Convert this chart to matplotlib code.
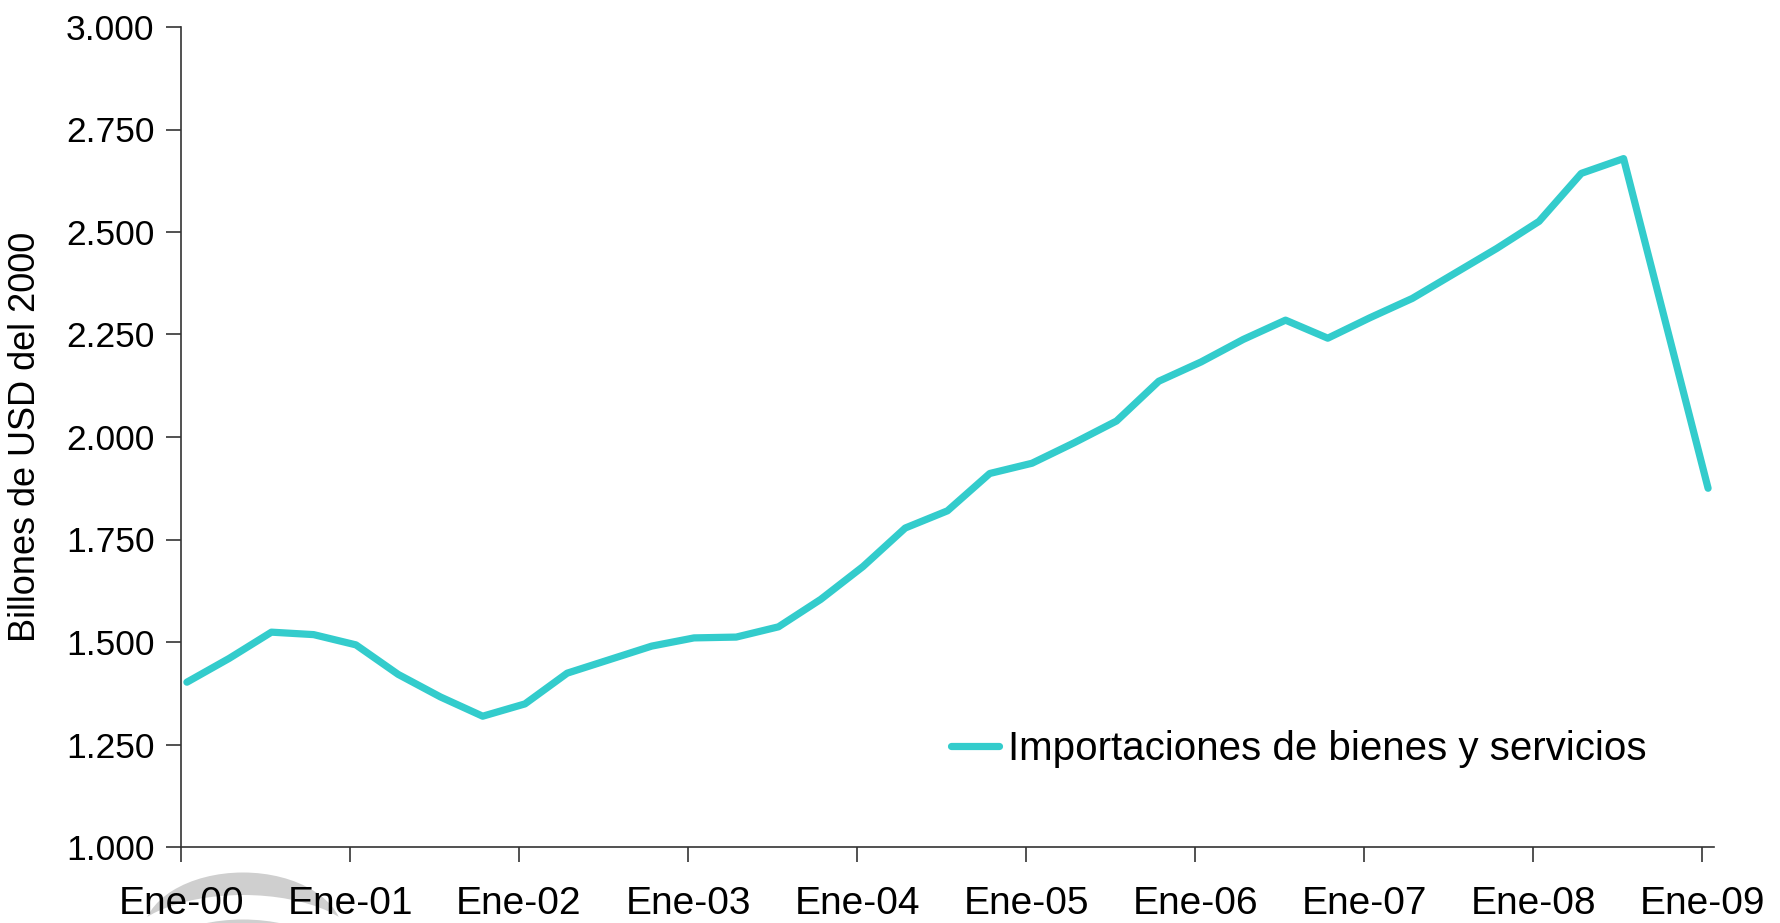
import matplotlib
matplotlib.use("Agg")
import matplotlib.pyplot as plt
from matplotlib.ticker import FuncFormatter, FixedLocator
from matplotlib.patches import Ellipse
import numpy as np

plt.rcParams['font.family'] = ['Liberation Sans', 'DejaVu Sans']

year_labels = ["Ene-00", "Ene-01", "Ene-02", "Ene-03", "Ene-04",
               "Ene-05", "Ene-06", "Ene-07", "Ene-08", "Ene-09"]
series_name = "Importaciones de bienes y servicios"
# Quarterly values, Q1 2000 .. Q1 2009 (billions of USD 2000, "billones")
imports = [1402, 1460, 1524, 1518, 1493, 1421, 1366, 1319,
           1349, 1424, 1457, 1490, 1510, 1512, 1537, 1604,
           1684, 1778, 1820, 1911, 1936, 1986, 2039, 2136,
           2183, 2238, 2285, 2241, 2291, 2338, 2399, 2460,
           2526, 2643, 2679, 2277, 1875]

n = len(imports)
xpos = np.arange(n) * 0.25 + 0.035

W, H = 1780, 923
fig = plt.figure(figsize=(17.8, 9.23), dpi=100)
ax = fig.add_axes([181/W, 1 - 847/H, (1714-181)/W, (847-27)/H])

# faint watermark logo behind the bottom-left labels
def px_ellipse(cx, cy, w, h, color):
    e = Ellipse((cx/W, 1 - cy/H), w/W, h/H, transform=fig.transFigure,
                facecolor=color, edgecolor='none', zorder=-1)
    fig.patches.append(e)

px_ellipse(243, 935, 200, 125, '#cfcfcf')
px_ellipse(243, 950, 240, 110, 'white')
px_ellipse(243, 982, 220, 125, '#cfcfcf')

ax.plot(xpos, imports, color='#33CCCC', lw=5.2, solid_capstyle='round',
        solid_joinstyle='round', label=series_name)

ax.set_xlim(0, 9.07)
ax.set_ylim(1000, 3000)
ax.set_yticks(np.arange(1000, 3001, 250))
ax.yaxis.set_major_formatter(FuncFormatter(lambda v, p: f"{int(v):,}".replace(",", ".")))
ax.xaxis.set_major_locator(FixedLocator(np.arange(len(year_labels))))
ax.set_xticklabels(year_labels)

for s in ['top', 'right']:
    ax.spines[s].set_visible(False)
for s in ['left', 'bottom']:
    ax.spines[s].set_color('#333333')
    ax.spines[s].set_linewidth(1.2)
ax.tick_params(axis='both', direction='out', length=11, width=1.2, color='#333333',
               labelcolor='black')
ax.tick_params(axis='x', pad=17, labelsize=28)
ax.tick_params(axis='y', pad=8, labelsize=25.5)
ax.patch.set_alpha(0)

ax.set_ylabel("Billones de USD del 2000", fontsize=26)
ax.yaxis.set_label_coords((43-181)/1533, 0.5)

leg = ax.legend(loc='center left', bbox_to_anchor=((951-181)/1533, 1 - (749-27)/820),
                frameon=False, fontsize=29, handlelength=1.2, handletextpad=0.22,
                borderaxespad=0, borderpad=0)

fig.savefig("out.png", dpi=100)
